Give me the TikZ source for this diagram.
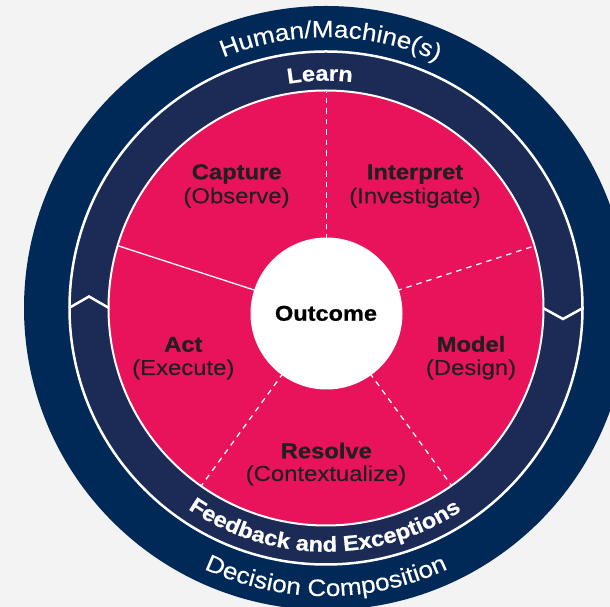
\documentclass[tikz,border=0pt]{standalone}
\usepackage{fontspec}
\setmainfont{Liberation Sans}
\newfontfamily\wsans[FakeStretch=1.1, UprightFeatures={FakeBold=0.25}, BoldFeatures={FakeBold=0.7}]{Liberation Sans}
\usetikzlibrary{decorations.text,calc}
\definecolor{bgc}{RGB}{243,243,243}
\definecolor{navyA}{RGB}{0,41,87}
\definecolor{navyB}{RGB}{27,43,86}
\definecolor{pinkc}{RGB}{233,19,91}
\definecolor{txtc}{RGB}{35,31,32}
\newcommand\curvtxt{\wsans\fontsize{23.7}{26}\selectfont}
\newcommand\curvbold{\wsans\bfseries\fontsize{21.5}{24}\selectfont}
\tikzset{
  divider/.style={white, line width=1.3pt, dash pattern=on 5.5pt off 5pt},
  soliddiv/.style={white, line width=1.3pt},
  chev/.style={white, line width=2.5pt, line join=miter},
  boldlbl/.style={anchor=base, inner sep=0pt, text=txtc, font=\wsans\bfseries\fontsize{21.6}{24}\selectfont},
  reglbl/.style={anchor=base, inner sep=0pt, text=txtc, font=\wsans\fontsize{21.7}{24}\selectfont},
}
\begin{document}
\begin{tikzpicture}[x=1pt,y=1pt]
\useasboundingbox (0,0) rectangle (610,607);
\fill[bgc] (0,0) rectangle (610,607);
\coordinate (C) at (326,299);
\coordinate (O) at (326.5,293.5);
% rings
\fill[navyA] (C) circle[radius=302];
\filldraw[fill=navyB, draw=white, line width=2.5pt] (C) circle[radius=256.5];
\filldraw[fill=pinkc, draw=white, line width=2pt] (C) circle[radius=217.5];
% dividers
\begin{scope}
\clip (C) circle[radius=216.5];
\coordinate (d1) at ($(O)+(90:240)$);
\coordinate (d2) at ($(O)+(18:240)$);
\coordinate (d3) at ($(O)+(-54:240)$);
\coordinate (d4) at ($(O)+(-126:240)$);
\coordinate (d5) at ($(O)+(162:240)$);
\draw[divider] (O) -- (d1);
\draw[divider] (O) -- (d2);
\draw[divider] (O) -- (d3);
\draw[divider] (O) -- (d4);
\draw[soliddiv] (O) -- (d5);
\end{scope}
% outcome
\node[circle, fill=white, minimum size=152pt, inner sep=0pt] (out) at (O) {};
\node[anchor=base, inner sep=0pt, text=black, font=\wsans\bfseries\fontsize{21.4}{24}\selectfont] (outlbl) at (326,286.3) {Outcome};
% chevrons
\coordinate (cl1) at ($(C)+(180:217)$);
\coordinate (cl2) at ($(C)+(-237,11.5)$);
\coordinate (cl3) at ($(C)+(180:257)$);
\coordinate (cr1) at ($(C)+(0:217)$);
\coordinate (cr2) at ($(C)+(237,-11)$);
\coordinate (cr3) at ($(C)+(0:257)$);
\draw[chev] (cl1) -- (cl2) -- (cl3);
\draw[chev] (cr1) -- (cr2) -- (cr3);
% labels
\node[boldlbl] (cap) at (236.7,427.7) {Capture};
\node[reglbl] (obs) at (236.5,403.7) {(Observe)};
\node[boldlbl] (int) at (415,427.7) {Interpret};
\node[reglbl] (inv) at (415,403.7) {(Investigate)};
\node[boldlbl] (act) at (183.3,255.3) {Act};
\node[reglbl] (exe) at (183.3,232) {(Execute)};
\node[boldlbl] (mod) at (471,255.3) {Model};
\node[reglbl] (des) at (471,232) {(Design)};
\node[boldlbl] (res) at (326.3,148.7) {Resolve};
\node[reglbl] (ctx) at (326,126) {(Contextualize)};
% curved texts
\path[decorate, decoration={text along path, text={|\curvtxt|Human/Machine(s)}, text align=center, text color=white}]
  ($(C)+(149:270.7)$) arc[start angle=149, end angle=29, radius=270.7];
\path[decorate, decoration={text along path, text={|\curvbold|Learn}, text align=center, text color=white}]
  ($(C)+(151.5:227.3)$) arc[start angle=151.5, end angle=31.5, radius=227.3];
\path[decorate, decoration={text along path, text={|\curvbold|Feedback and Exceptions}, text align=center, text color=white}]
  ($(C)+(199.7:243.7)$) arc[start angle=199.7, end angle=339.7, radius=243.7];
\path[decorate, decoration={text along path, text={|\curvtxt|Decision Composition}, text align=center, text color=white}]
  ($(C)+(200:288)$) arc[start angle=200, end angle=340, radius=288];
\end{tikzpicture}
\end{document}
